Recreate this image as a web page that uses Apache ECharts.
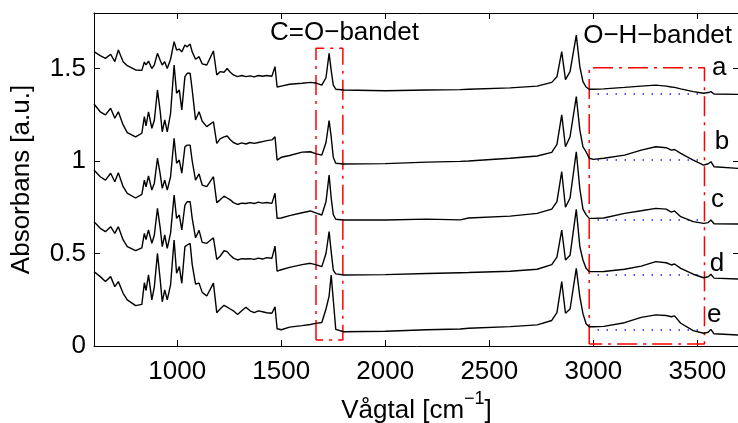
<!DOCTYPE html>
<html>
<head>
<meta charset="utf-8">
<script src="https://cdn.jsdelivr.net/npm/echarts@6/dist/echarts.min.js"></script>
<style>
  html, body { margin: 0; padding: 0; background: #fff; }
  #chart { width: 738px; height: 423px; }
</style>
</head>
<body>
<div id="chart"></div>
<script>
// wavenumber grid (cm-1), shared by all five spectra
var wavenumbers = [600, 630, 655, 680, 700, 717, 740, 760, 800, 830,
    842, 850, 862, 878, 890, 905, 918, 928, 940, 952,
    968, 985, 997, 1010, 1022, 1037, 1048, 1062, 1072, 1088,
    1105, 1120, 1142, 1174, 1190, 1206, 1225, 1240, 1255, 1270,
    1290, 1310, 1330, 1350, 1370, 1390, 1410, 1430, 1455, 1470,
    1480, 1500, 1540, 1600, 1640, 1665, 1695, 1715, 1730, 1740,
    1750, 1762, 1800, 2000, 2200, 2360, 2400, 2600, 2730, 2800,
    2825, 2848, 2866, 2888, 2918, 2935, 2950, 2965, 2980, 3000,
    3050, 3150, 3230, 3300, 3350, 3375, 3390, 3420, 3480, 3530,
    3552, 3565, 3580, 3700];

var specA = [1.591, 1.570, 1.555, 1.577, 1.537, 1.600, 1.537, 1.515, 1.492, 1.490,
    1.535, 1.519, 1.540, 1.500, 1.520, 1.582, 1.545, 1.519, 1.537, 1.500,
    1.550, 1.645, 1.600, 1.605, 1.590, 1.627, 1.617, 1.632, 1.590, 1.550,
    1.564, 1.525, 1.519, 1.595, 1.465, 1.483, 1.480, 1.500, 1.480, 1.465,
    1.456, 1.462, 1.456, 1.460, 1.455, 1.462, 1.458, 1.462, 1.458, 1.510,
    1.400, 1.405, 1.415, 1.420, 1.425, 1.422, 1.410, 1.450, 1.582, 1.490,
    1.410, 1.388, 1.384, 1.380, 1.384, 1.386, 1.388, 1.395, 1.405, 1.425,
    1.455, 1.591, 1.440, 1.483, 1.681, 1.510, 1.429, 1.400, 1.388, 1.388,
    1.390, 1.398, 1.405, 1.410, 1.405, 1.400, 1.398, 1.390, 1.375, 1.366,
    1.370, 1.375, 1.362, 1.360];

var specB = [1.308, 1.266, 1.249, 1.285, 1.231, 1.266, 1.195, 1.153, 1.130, 1.150,
    1.240, 1.190, 1.266, 1.177, 1.220, 1.384, 1.270, 1.158, 1.222, 1.158,
    1.258, 1.519, 1.366, 1.384, 1.276, 1.456, 1.474, 1.474, 1.384, 1.222,
    1.266, 1.215, 1.186, 1.212, 1.095, 1.120, 1.130, 1.135, 1.115, 1.100,
    1.090, 1.098, 1.092, 1.100, 1.095, 1.100, 1.105, 1.110, 1.114, 1.131,
    1.005, 1.020, 1.030, 1.048, 1.050, 1.040, 1.032, 1.100, 1.218, 1.130,
    1.020, 0.988, 0.984, 0.986, 0.994, 0.998, 1.000, 1.015, 1.027, 1.047,
    1.090, 1.249, 1.077, 1.131, 1.348, 1.168, 1.077, 1.050, 1.015, 1.009,
    1.015, 1.032, 1.059, 1.077, 1.072, 1.059, 1.062, 1.041, 1.005, 0.978,
    0.985, 0.996, 0.969, 0.960];

var specC = [0.951, 0.915, 0.897, 0.934, 0.888, 0.937, 0.861, 0.825, 0.800, 0.820,
    0.897, 0.860, 0.919, 0.843, 0.880, 1.015, 0.930, 0.852, 0.897, 0.843,
    0.915, 1.123, 0.988, 1.005, 0.934, 1.077, 1.086, 1.086, 1.000, 0.897,
    0.930, 0.870, 0.861, 0.915, 0.775, 0.790, 0.810, 0.800, 0.790, 0.775,
    0.765, 0.772, 0.770, 0.775, 0.770, 0.778, 0.772, 0.776, 0.771, 0.826,
    0.690, 0.692, 0.705, 0.720, 0.730, 0.720, 0.708, 0.780, 0.924, 0.800,
    0.710, 0.685, 0.681, 0.681, 0.686, 0.682, 0.692, 0.702, 0.717, 0.740,
    0.780, 0.942, 0.750, 0.800, 1.050, 0.850, 0.740, 0.710, 0.690, 0.690,
    0.692, 0.717, 0.731, 0.744, 0.740, 0.724, 0.730, 0.699, 0.672, 0.663,
    0.667, 0.681, 0.661, 0.659];

var specD = [0.672, 0.636, 0.618, 0.645, 0.609, 0.645, 0.573, 0.537, 0.515, 0.530,
    0.609, 0.575, 0.627, 0.555, 0.600, 0.744, 0.640, 0.537, 0.600, 0.528,
    0.610, 0.816, 0.690, 0.708, 0.627, 0.762, 0.780, 0.780, 0.690, 0.585,
    0.625, 0.560, 0.555, 0.585, 0.468, 0.485, 0.515, 0.510, 0.490, 0.475,
    0.465, 0.472, 0.470, 0.472, 0.468, 0.475, 0.470, 0.478, 0.474, 0.540,
    0.405, 0.412, 0.425, 0.440, 0.447, 0.440, 0.429, 0.500, 0.618, 0.510,
    0.410, 0.390, 0.384, 0.386, 0.392, 0.396, 0.397, 0.404, 0.415, 0.440,
    0.480, 0.627, 0.465, 0.490, 0.739, 0.537, 0.465, 0.420, 0.402, 0.402,
    0.403, 0.415, 0.432, 0.456, 0.450, 0.438, 0.443, 0.420, 0.388, 0.369,
    0.374, 0.388, 0.367, 0.362];

var specE = [0.402, 0.375, 0.348, 0.375, 0.321, 0.348, 0.285, 0.249, 0.218, 0.225,
    0.342, 0.300, 0.384, 0.249, 0.320, 0.501, 0.360, 0.239, 0.303, 0.249,
    0.330, 0.573, 0.393, 0.429, 0.339, 0.537, 0.546, 0.555, 0.440, 0.335,
    0.340, 0.290, 0.270, 0.340, 0.180, 0.200, 0.220, 0.210, 0.200, 0.190,
    0.170, 0.190, 0.210, 0.190, 0.180, 0.190, 0.185, 0.180, 0.177, 0.212,
    0.093, 0.088, 0.102, 0.110, 0.116, 0.122, 0.127, 0.200, 0.270, 0.384,
    0.250, 0.090, 0.077, 0.080, 0.088, 0.092, 0.096, 0.105, 0.114, 0.138,
    0.180, 0.348, 0.177, 0.200, 0.420, 0.267, 0.175, 0.120, 0.104, 0.104,
    0.106, 0.126, 0.155, 0.168, 0.165, 0.158, 0.163, 0.123, 0.083, 0.069,
    0.074, 0.090, 0.066, 0.059];

var spectra = [specA, specB, specC, specD, specE];
var traceNames = ['a', 'b', 'c', 'd', 'e'];

// sample letters at the right edge
var letterX = [3570, 3584, 3565, 3560, 3546];
var letterY = [1.503, 1.103, 0.789, 0.443, 0.168];

// O-H baselines (blue dotted)
var baseX = [3020, 3530];
var baseY = [1.362, 1.005, 0.681, 0.384, 0.086];

// band boxes
var coBoxX = [1667, 1796];
var coBoxY = [0.032, 1.609];
var ohBoxX = [2980, 3534];
var ohBoxY = [0.011, 1.504];

var bandNames = ['C=O\u2212bandet', 'O\u2212H\u2212bandet'];
var bandX = [1446, 2951];
var bandY = [1.694, 1.676];

var xTicks = [1000, 1500, 2000, 2500, 3000, 3500];
var yTicks = [0, 0.5, 1, 1.5];

var FONT = '"Liberation Sans", Arial, sans-serif';

function pairs(ys) {
    return wavenumbers.map(function (w, i) { return [w, ys[i]]; });
}

function box(xs, ys) {
    return [[xs[0], ys[0]], [xs[0], ys[1]], [xs[1], ys[1]], [xs[1], ys[0]], [xs[0], ys[0]]];
}

// plain numbers, no thousands separator
function plain(v) {
    return String(v);
}

var series = [];

for (var i = 0; i < spectra.length; i++) {
    series.push({
        name: traceNames[i],
        type: 'line',
        data: pairs(spectra[i]),
        showSymbol: false,
        lineStyle: { color: '#000', width: 1.4 },
        z: 3
    });
}

for (var i = 0; i < baseY.length; i++) {
    series.push({
        type: 'line',
        data: [[baseX[0], baseY[i]], [baseX[1], baseY[i]]],
        showSymbol: false,
        lineStyle: { color: '#2020ff', width: 1.5, type: [1.5, 7.5] },
        z: 2
    });
}

[[coBoxX, coBoxY], [ohBoxX, ohBoxY]].forEach(function (b) {
    series.push({
        type: 'line',
        data: box(b[0], b[1]),
        showSymbol: false,
        lineStyle: { color: '#ff0000', width: 1.5, type: [20, 6, 3, 6] },
        z: 2
    });
});

// text annotations
var textData = [];
for (var i = 0; i < traceNames.length; i++) {
    textData.push({ name: traceNames[i], value: [letterX[i], letterY[i]] });
}
for (var i = 0; i < bandNames.length; i++) {
    textData.push({ name: bandNames[i], value: [bandX[i], bandY[i]] });
}
series.push({
    type: 'scatter',
    data: textData,
    symbolSize: 0,
    silent: true,
    itemStyle: { opacity: 1 },
    label: {
        show: true,
        formatter: '{b}',
        position: 'right',
        distance: 0,
        color: '#000',
        opacity: 1,
        fontSize: 26,
        fontFamily: FONT
    },
    z: 4
});

var axisLineStyle = { color: '#000', width: 1 };

var myChart = echarts.init(document.getElementById('chart'));

var option = {
    backgroundColor: '#fff',
    animation: false,
    grid: { left: 94, top: 13, width: 645, height: 333, outerBoundsMode: 'none', containLabel: false },
    xAxis: [
        {
            type: 'value',
            min: 600,
            max: 3700,
            position: 'bottom',
            axisLine: { show: true, onZero: false, lineStyle: axisLineStyle },
            axisTick: { show: true, inside: true, length: 6, customValues: xTicks, lineStyle: axisLineStyle },
            axisLabel: { customValues: xTicks, formatter: plain, color: '#000', fontSize: 26, fontFamily: FONT, margin: 13 },
            splitLine: { show: false },
            name: '{n|V\u00e5gtal [cm}{s|\u22121}{n|]}',
            nameLocation: 'middle',
            nameGap: 43,
            nameTextStyle: {
                rich: {
                    n: { fontSize: 26, fontFamily: FONT, color: '#000', lineHeight: 42 },
                    s: { fontSize: 18, fontFamily: FONT, color: '#000', lineHeight: 18, verticalAlign: 'top' }
                }
            }
        },
        {
            type: 'value',
            min: 600,
            max: 3700,
            position: 'top',
            axisLine: { show: true, onZero: false, lineStyle: axisLineStyle },
            axisTick: { show: true, inside: true, length: 6, customValues: xTicks, lineStyle: axisLineStyle },
            axisLabel: { show: false },
            splitLine: { show: false }
        }
    ],
    yAxis: [
        {
            type: 'value',
            min: 0,
            max: 1.8,
            position: 'left',
            axisLine: { show: true, onZero: false, lineStyle: axisLineStyle },
            axisTick: { show: true, inside: true, length: 6, customValues: yTicks, lineStyle: axisLineStyle },
            axisLabel: { customValues: yTicks, formatter: plain, color: '#000', fontSize: 26, fontFamily: FONT, margin: 8 },
            splitLine: { show: false },
            name: 'Absorbans [a.u.]',
            nameLocation: 'middle',
            nameGap: 59,
            nameTextStyle: { fontSize: 26, fontFamily: FONT, color: '#000' }
        },
        {
            type: 'value',
            min: 0,
            max: 1.8,
            position: 'right',
            axisLine: { show: true, onZero: false, lineStyle: axisLineStyle },
            axisTick: { show: true, inside: true, length: 6, customValues: yTicks, lineStyle: axisLineStyle },
            axisLabel: { show: false },
            splitLine: { show: false }
        }
    ],
    series: series
};

myChart.setOption(option);
</script>
</body>
</html>
